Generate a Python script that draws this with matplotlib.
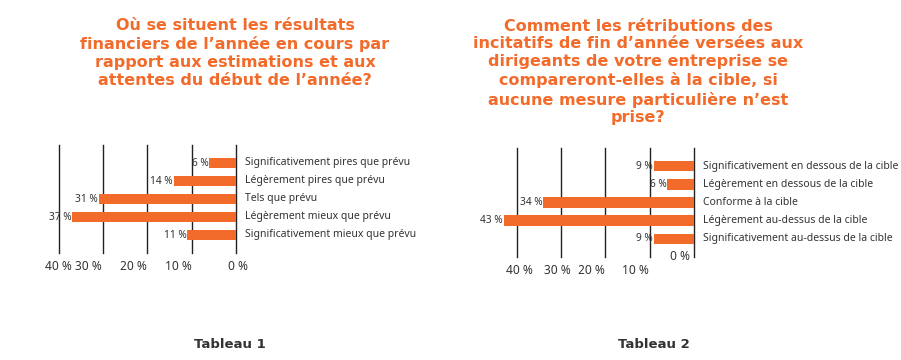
import matplotlib
matplotlib.use('Agg')
import matplotlib.pyplot as plt

# Données
cats1 = ['Significativement pires que prévu', 'Légèrement pires que prévu', 'Tels que prévu',
         'Légèrement mieux que prévu', 'Significativement mieux que prévu']
vals1 = [6, 14, 31, 37, 11]
cats2 = ['Significativement en dessous de la cible', 'Légèrement en dessous de la cible',
         'Conforme à la cible', 'Légèrement au-dessus de la cible',
         'Significativement au-dessus de la cible']
vals2 = [9, 6, 34, 43, 9]
grid_vals = [0, 10, 20, 30, 40]
tick_txt = ['40 %', '30 %', '20 %', '10 %', '0 %']
tick_pos1 = [40, 33.3, 23.2, 13, -0.5]
tick_pos2 = [39.3, 30.9, 23.2, 13.3, 3.2]

title1 = ("Où se situent les résultats\nfinanciers de l’année en cours par\n"
          "rapport aux estimations et aux\nattentes du début de l’année?")
title2 = ("Comment les rétributions des\nincitatifs de fin d’année versées aux\n"
          "dirigeants de votre entreprise se\ncompareront-elles à la cible, si\n"
          "aucune mesure particulière n’est\nprise?")

orange = '#F26B2A'
W, H = 901, 360
plt.rcParams['font.family'] = ['Noto Sans', 'DejaVu Sans']

fig = plt.figure(figsize=(W / 100, H / 100), dpi=100)
fig.patch.set_facecolor('white')


def panneau(left, right, top, bottom, zero_px, cats, vals, tick_pos, tick_y, zero_y=None):
    ax = fig.add_axes([left / W, 1 - bottom / H, (right - left) / W, (bottom - top) / H])
    px = 4.43  # pixels par point de %
    ax.set_xlim((zero_px - left) / px, (zero_px - right) / px)
    ax.set_ylim(5, -1)
    for g in grid_vals:
        ax.axvline(g, color='#222222', lw=1.0, zorder=1, clip_on=False)
    y = list(range(len(vals)))
    ax.barh(y, vals, height=0.58, color=orange, zorder=2)
    for yi, v, c in zip(y, vals, cats):
        ax.text(v + 0.2, yi, f'{v} %', ha='right', va='center', fontsize=7.3, color='#333333', zorder=3)
        ax.text(-2.0, yi, c, ha='left', va='center', fontsize=7.5, color='#333333', clip_on=False)
    ax.set_xticks([])
    ax.set_yticks([])
    for s in ax.spines.values():
        s.set_visible(False)
    ax.patch.set_alpha(0)
    for p, t in zip(tick_pos, tick_txt):
        yy = tick_y
        if zero_y is not None and t == '0 %':
            yy = zero_y
        xf = (zero_px - p * px) / W
        fig.text(xf, 1 - yy / H, t, ha='center', va='center', fontsize=8.6, color='#333333')
    return ax


panneau(40, 236, 145, 253, 236, cats1, vals1, tick_pos1, 267)
panneau(495, 694, 148, 257, 694, cats2, vals2, tick_pos2, 270, zero_y=257)

tfont = ['DejaVu Sans']
fig.text(235 / W, 1 - 53 / H, title1, ha='center', va='center', fontsize=11.5, fontweight='bold',
         color=orange, family=tfont, linespacing=1.24)
fig.text(638 / W, 1 - 72 / H, title2, ha='center', va='center', fontsize=11.5, fontweight='bold',
         color=orange, family=tfont, linespacing=1.24)

fig.text(230 / W, 1 - 344 / H, 'Tableau 1', ha='center', va='center', fontsize=9.5,
         fontweight='bold', color='#333333', family=tfont)
fig.text(654 / W, 1 - 344 / H, 'Tableau 2', ha='center', va='center', fontsize=9.5,
         fontweight='bold', color='#333333', family=tfont)

fig.savefig('out.png', dpi=100)
